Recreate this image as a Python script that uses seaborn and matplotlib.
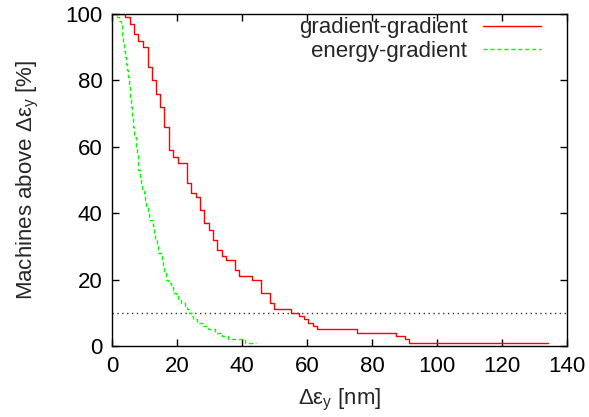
import matplotlib
matplotlib.use("Agg")
import matplotlib.pyplot as plt
import seaborn as sns
import pandas as pd

# gradient-gradient: error thresholds (nm) and % of machines above
gg_x = [0, 4.0, 5.5, 6.9, 8.1, 9.6, 11.0, 12.2, 13.5, 14.9, 16.1, 17.5, 18.9, 20.2,
        23.0, 24.3, 25.7, 27.0, 28.4, 29.7, 31.1, 32.4, 33.7, 35.1, 37.7, 39.1,
        43.2, 45.8, 48.5, 49.8, 55.2, 57.6, 59.1, 60.4, 61.7, 63.2, 75.5, 87.4,
        90.1, 91.5, 134.3]
gg_y = [100, 99, 97, 94, 92, 90, 84, 80, 76, 72, 66, 59, 57, 55,
        49, 46, 45, 41, 37, 35, 32, 29, 27, 26, 23, 21,
        20, 16, 13, 11, 10, 9, 8, 7, 6, 5, 4, 3,
        2, 1, 1]

# energy-gradient
eg_x = [0, 1.6, 2.2, 2.7, 3.0, 3.2, 3.4, 3.6, 3.9, 4.3, 4.7, 5.0, 5.3, 5.5, 5.8,
        6.3, 6.6, 6.9, 7.3, 7.6, 7.9, 8.1, 8.6, 9.0, 9.3, 9.7, 10.2, 10.6, 11.0,
        11.5, 12.5, 12.8, 13.2, 13.8, 14.3, 15.0, 15.3, 15.8, 16.1, 16.6, 17.1,
        18.0, 18.7, 19.2, 19.7, 20.4, 21.2, 22.5, 23.2, 23.8, 24.5, 25.0, 26.3,
        28.0, 29.6, 31.7, 33.7, 35.8, 40.9, 44.3]
eg_y = [100, 99, 98, 97, 95, 93, 91, 89, 87, 85, 83, 81, 78, 75, 72,
        69, 66, 63, 60, 58, 55, 53, 51, 49, 47, 46, 44, 42, 40,
        38, 36, 34, 32, 30, 28, 27, 26, 24, 22, 20, 19,
        18, 17, 16, 15, 14, 13, 12, 11, 10, 9, 8, 7,
        6, 5, 4, 3, 2, 1, 1]

threshold = 10
x_ticks = [0, 20, 40, 60, 80, 100, 120, 140]
y_ticks = [0, 20, 40, 60, 80, 100]

sns.set_style("ticks")
plt.rcParams['font.family'] = ['Liberation Sans', 'DejaVu Sans']
plt.rcParams['mathtext.default'] = 'regular'

FS = 16

fig = plt.figure(figsize=(5.89, 4.17), dpi=100)
ax = fig.add_axes([112/589, 1-346/417, 455/589, 332/417])

df_gg = pd.DataFrame({"x": gg_x, "y": gg_y})
df_eg = pd.DataFrame({"x": eg_x, "y": eg_y})

sns.lineplot(data=df_gg, x="x", y="y", ax=ax, color="#ff0000", lw=1.0,
             drawstyle="steps-post", estimator=None, sort=False,
             label="gradient-gradient")
sns.lineplot(data=df_eg, x="x", y="y", ax=ax, color="#00ff00", lw=1.0,
             drawstyle="steps-post", estimator=None, sort=False,
             dashes=False, linestyle=(0, (3, 2)),
             label="energy-gradient")
ax.axhline(threshold, color="#333333", lw=1.0, linestyle=(0, (1, 2.5)), zorder=1)

ax.set_xlim(0, 140)
ax.set_ylim(0, 100)
ax.set_xticks(x_ticks)
ax.set_yticks(y_ticks)
ax.tick_params(direction="in", top=True, right=True, length=5, width=1,
               labelsize=FS, colors="black", pad=7)
for s in ax.spines.values():
    s.set_color("black")
    s.set_linewidth(1.0)

ax.set_xlabel("Δε$_y$ [nm]", fontsize=FS, labelpad=7)
ax.set_ylabel("Machines above Δε$_y$ [%]", fontsize=FS, labelpad=17)

leg = ax.legend(loc="upper right", bbox_to_anchor=(0.942, 0.99), frameon=False,
                markerfirst=False, handlelength=2.6, borderaxespad=0,
                borderpad=0, labelspacing=0.1, handletextpad=0.7, fontsize=FS)

fig.savefig("out.png", dpi=100)
